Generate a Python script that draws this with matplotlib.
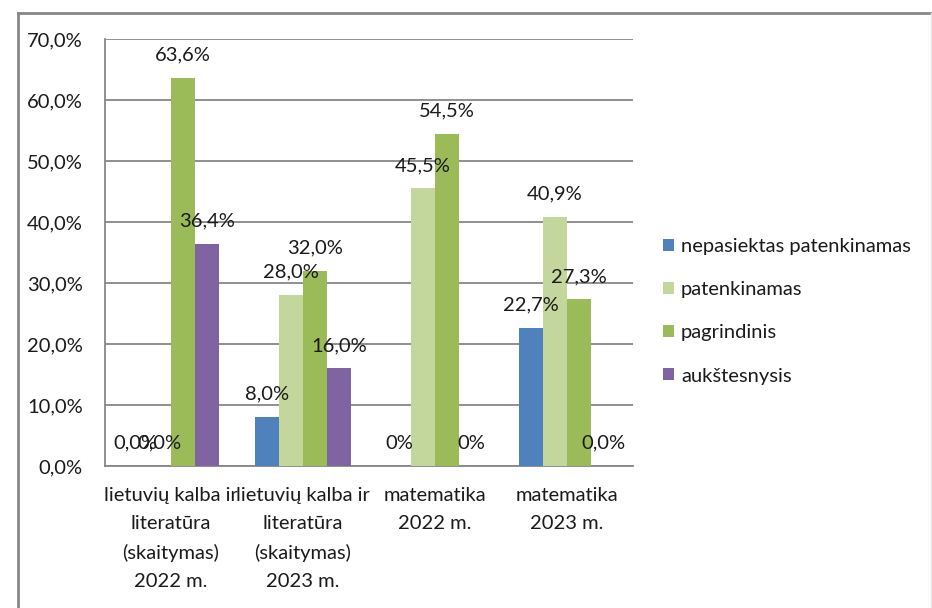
import numpy as np
import matplotlib
matplotlib.use("Agg")
import matplotlib.pyplot as plt
from matplotlib.lines import Line2D

plt.rcParams["font.family"] = ["Lato", "DejaVu Sans"]

# data
categories = [
    "lietuvių kalba ir\nliteratūra\n(skaitymas)\n2022 m.",
    "lietuvių kalba ir\nliteratūra\n(skaitymas)\n2023 m.",
    "matematika\n2022 m.",
    "matematika\n2023 m.",
]
series_names = ["nepasiektas patenkinamas", "patenkinamas", "pagrindinis", "aukštesnysis"]
nepasiektas = [0.0, 8.0, 0.0, 22.7]
patenkinamas = [0.0, 28.0, 45.5, 40.9]
pagrindinis = [63.6, 32.0, 54.5, 27.3]
aukstesnysis = [36.4, 16.0, 0.0, 0.0]
# label text as shown in the chart (some zeros are written "0%")
labels_nepasiektas = ["0,0%", "8,0%", "0%", "22,7%"]
labels_patenkinamas = ["0,0%", "28,0%", "45,5%", "40,9%"]
labels_pagrindinis = ["63,6%", "32,0%", "54,5%", "27,3%"]
labels_aukstesnysis = ["36,4%", "16,0%", "0%", "0,0%"]
y_ticks = [0, 10, 20, 30, 40, 50, 60, 70]

colors = ["#4F81BD", "#C3D69B", "#9BBB59", "#8064A2"]
values = [nepasiektas, patenkinamas, pagrindinis, aukstesnysis]
texts = [labels_nepasiektas, labels_patenkinamas, labels_pagrindinis, labels_aukstesnysis]

W, H = 932, 608
fig = plt.figure(figsize=(W / 100, H / 100), dpi=100)
ax = fig.add_axes([105 / W, 1 - 466 / H, (633 - 105) / W, (466 - 39) / H])

fs = 14.5
grid_c = "#878787"
txt_c = "#1a1a1a"

x = np.arange(len(categories))
w = 1 / 5.5  # gap width 150%
for i, (vals, col, name, lab) in enumerate(zip(values, colors, series_names, texts)):
    xs = x + (i - 1.5) * w
    bars = ax.bar(xs, vals, width=w, color=col, label=name, zorder=3)
    for b, t in zip(bars, lab):
        ax.annotate(t, (b.get_x() + b.get_width() / 2, b.get_height()),
                    xytext=(0, 16.5), textcoords="offset points",
                    ha="center", va="center", fontsize=fs, color=txt_c, zorder=4)

ax.set_xlim(-0.5, len(categories) - 0.5)
ax.set_ylim(0, 70)
ax.set_yticks(y_ticks)
ax.set_yticklabels([f"{v:.1f}%".replace(".", ",") for v in y_ticks])
ax.set_xticks(x)
ax.set_xticklabels(categories, linespacing=1.8)
ax.tick_params(axis="y", length=0, pad=16, labelsize=fs, labelcolor=txt_c)
ax.tick_params(axis="x", length=0, pad=15, labelsize=fs, labelcolor=txt_c)
ax.yaxis.grid(True, color=grid_c, lw=1.3, zorder=0)
ax.set_axisbelow(True)
for s in ["top", "right"]:
    ax.spines[s].set_visible(False)
for s in ["left", "bottom"]:
    ax.spines[s].set_color(grid_c)
    ax.spines[s].set_linewidth(1.3)

ax.legend(loc="upper left", bbox_to_anchor=(663 / W, 1 - 238 / H),
          bbox_transform=fig.transFigure, frameon=False, fontsize=fs,
          handlelength=0.55, handleheight=0.55, handletextpad=0.35,
          labelspacing=1.3, borderaxespad=0, borderpad=0, labelcolor=txt_c)

# outer chart frame
fig.add_artist(Line2D([18 / W, 1], [1 - 13 / H, 1 - 13 / H], transform=fig.transFigure, color=grid_c, lw=2))
fig.add_artist(Line2D([18 / W, 18 / W], [1 - 13 / H, 0], transform=fig.transFigure, color=grid_c, lw=2))
fig.add_artist(Line2D([931 / W, 931 / W], [1 - 13 / H, 0], transform=fig.transFigure, color="#e6e6e6", lw=1))

fig.savefig("out.png", dpi=100)
